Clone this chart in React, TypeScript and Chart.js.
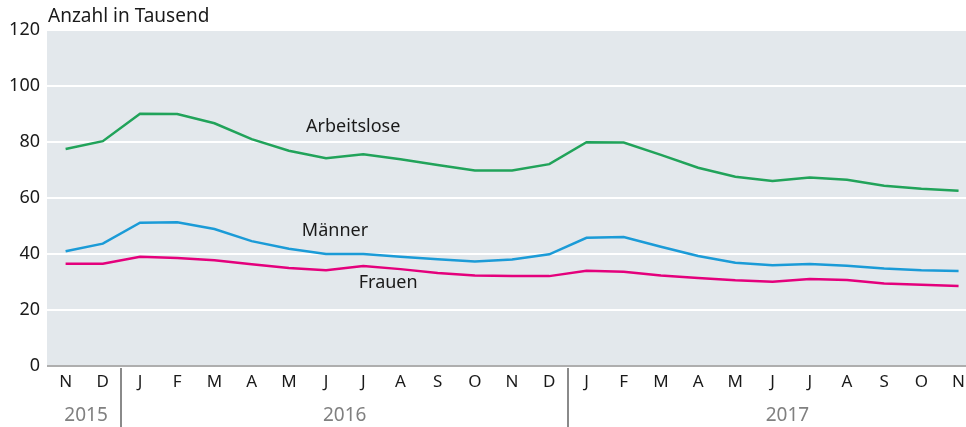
import React, { useEffect, useRef } from "react";
import { Chart, registerables } from "chart.js";

Chart.register(...registerables);

const months = ["N", "D", "J", "F", "M", "A", "M", "J", "J", "A", "S", "O", "N", "D", "J", "F", "M", "A", "M", "J", "J", "A", "S", "O", "N"];
const arbeitslose = [77.5, 80.3, 90.1, 90.0, 86.7, 81.0, 76.9, 74.2, 75.6, 73.8, 71.8, 69.8, 69.8, 72.1, 79.9, 79.8, 75.4, 70.8, 67.6, 66.1, 67.3, 66.5, 64.4, 63.3, 62.6];
const maenner = [41.0, 43.7, 51.2, 51.3, 48.9, 44.6, 41.9, 40.0, 40.0, 39.0, 38.1, 37.3, 38.0, 39.9, 45.8, 46.1, 42.6, 39.3, 36.9, 36.0, 36.4, 35.8, 34.8, 34.2, 33.9];
const frauen = [36.5, 36.5, 39.0, 38.6, 37.8, 36.3, 35.0, 34.2, 35.7, 34.6, 33.2, 32.3, 32.1, 32.1, 34.0, 33.7, 32.3, 31.4, 30.6, 30.1, 31.1, 30.7, 29.5, 29.0, 28.6];
const yTicks = [0, 20, 40, 60, 80, 100, 120];
const years = ["2015", "2016", "2017"];
const yearCenters = [0.55, 7.5, 19.4];
const yearSeparators = [1.5, 13.5];
const seriesLabels = [
  { text: "Arbeitslose", x: 7.73, y: 85.4 },
  { text: "Männer", x: 7.24, y: 48.2 },
  { text: "Frauen", x: 8.67, y: 29.6 },
];
const yTitle = "Anzahl in Tausend";

const FONT = "'Noto Sans', sans-serif";
const COLORS = { green: "#21a35a", blue: "#1b9bd7", pink: "#e4007c" };

export default function App() {
  const ref = useRef<HTMLCanvasElement | null>(null);
  useEffect(() => {
    if (!ref.current) return;
    const toPts = (arr: number[]) => arr.map((v, i) => ({ x: i, y: v }));
    const decor = {
      id: "decor",
      beforeDraw(chart: any) {
        const { ctx, chartArea } = chart;
        ctx.save();
        ctx.fillStyle = "#e3e8ec";
        ctx.fillRect(chartArea.left, chartArea.top, chartArea.right - chartArea.left, chartArea.bottom - chartArea.top);
        ctx.restore();
      },
      afterDraw(chart: any) {
        const { ctx, chartArea } = chart;
        const xs = chart.scales.x;
        const ys = chart.scales.y;
        ctx.save();
        ctx.font = `19px ${FONT}`;
        ctx.fillStyle = "#1a1a1a";
        ctx.textAlign = "left";
        ctx.textBaseline = "middle";
        ctx.fillText(yTitle, chartArea.left + 1, 17);
        ctx.font = `18px ${FONT}`;
        ctx.textAlign = "center";
        seriesLabels.forEach((l) => {
          ctx.fillText(l.text, xs.getPixelForValue(l.x), ys.getPixelForValue(l.y));
        });
        ctx.strokeStyle = "#8a8a8a";
        ctx.lineWidth = 2;
        yearSeparators.forEach((v) => {
          const px = Math.round(xs.getPixelForValue(v));
          ctx.beginPath();
          ctx.moveTo(px, chartArea.bottom + 2);
          ctx.lineTo(px, chart.height);
          ctx.stroke();
        });
        ctx.font = `19px ${FONT}`;
        ctx.fillStyle = "#808080";
        years.forEach((y, i) => {
          ctx.fillText(y, xs.getPixelForValue(yearCenters[i]), chartArea.bottom + 50);
        });
        ctx.restore();
      },
    };
    const mk = (label: string, data: number[], color: string) => ({
      label,
      data: toPts(data),
      borderColor: color,
      borderWidth: 2.5,
      pointRadius: 0,
      tension: 0,
      fill: false,
    });
    const chart = new Chart(ref.current, {
      type: "line",
      data: {
        datasets: [
          mk("Arbeitslose", arbeitslose, COLORS.green),
          mk("Männer", maenner, COLORS.blue),
          mk("Frauen", frauen, COLORS.pink),
        ],
      },
      options: {
        animation: false,
        responsive: true,
        maintainAspectRatio: false,
        layout: { padding: { top: 30, right: 0, left: 0, bottom: 0 } },
        plugins: { legend: { display: false }, tooltip: { enabled: false }, title: { display: false } },
        scales: {
          x: {
            type: "linear",
            min: -0.5,
            max: 24.2,
            afterFit: (s: any) => { s.height = 61; s.paddingLeft = 0; s.paddingRight = 0; },
            afterBuildTicks: (s: any) => { s.ticks = months.map((_, i) => ({ value: i })); },
            grid: { display: false, drawTicks: false },
            border: { display: false },
            ticks: {
              autoSkip: false,
              maxRotation: 0,
              padding: 6,
              color: "#1a1a1a",
              font: { family: FONT, size: 17 },
              callback: (v: any) => months[v as number] ?? "",
            },
          },
          y: {
            min: 0,
            max: 120,
            afterFit: (s: any) => { s.width = 47; s.paddingTop = 0; s.paddingBottom = 0; },
            afterBuildTicks: (s: any) => { s.ticks = yTicks.map((v) => ({ value: v })); },
            grid: {
              drawTicks: false,
              lineWidth: 2,
              color: (c: any) => (c.tick && c.tick.value === 0 ? "#aeaeae" : "#ffffff"),
            },
            border: { display: false },
            ticks: {
              padding: 7,
              color: "#1a1a1a",
              font: { family: FONT, size: 18 },
            },
          },
        },
      },
      plugins: [decor],
    });
    return () => chart.destroy();
  }, []);
  return (
    <div style={{ position: "fixed", left: 0, top: 0, width: 966, height: 427 }}>
      <canvas ref={ref} />
    </div>
  );
}
